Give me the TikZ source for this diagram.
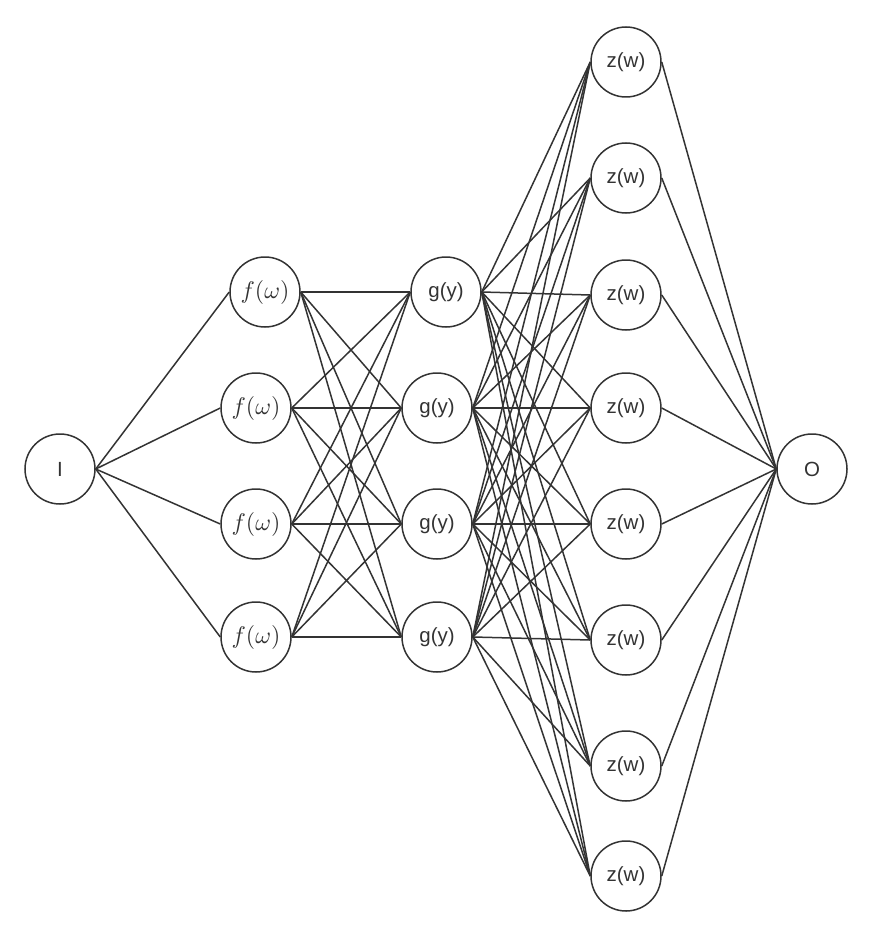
\documentclass[tikz,border=0pt]{standalone}
\usepackage{amsmath}
\usepackage{fontspec}
\setmainfont{Liberation Sans}
\usepackage{tikz}
\usetikzlibrary{calc,positioning}

\definecolor{inkgray}{HTML}{333333}
\newcommand{\fomega}{\scalebox{2.4}{\normalsize$f(\omega)$}}

\begin{document}
\begin{tikzpicture}[x=1pt,y=-1pt,
		neuron/.style = {draw=inkgray,circle,line width=1.5pt,minimum size=70pt,inner sep=0pt,text=inkgray,font=\fontsize{20.5}{23}\selectfont},
		link/.style = {draw=inkgray,line width=1.5pt}]
					\useasboundingbox (0,0) rectangle (873,936);

					% Input and output
					\node[neuron] (in) at (60,469) {I};
					\node[neuron] (out) at (812,469) {O};

					% First layer
					\node[neuron] (f1) at (265,292) {\fomega};
					\node[neuron] (f2) at (256,408) {\fomega};
					\node[neuron] (f3) at (256,524) {\fomega};
					\node[neuron] (f4) at (256,637) {\fomega};

					% Second layer
					\node[neuron] (g1) at (446,292) {g(y)};
					\node[neuron] (g2) at (437,408) {g(y)};
					\node[neuron] (g3) at (437,524) {g(y)};
					\node[neuron] (g4) at (437,637) {g(y)};

					% Third layer
					\node[neuron] (z1) at (626,62) {z(w)};
					\node[neuron] (z2) at (626,178) {z(w)};
					\node[neuron] (z3) at (626,295) {z(w)};
					\node[neuron] (z4) at (626,408) {z(w)};
					\node[neuron] (z5) at (626,524) {z(w)};
					\node[neuron] (z6) at (626,640) {z(w)};
					\node[neuron] (z7) at (626,766) {z(w)};
					\node[neuron] (z8) at (626,876) {z(w)};

					% Connections
					\foreach \i in {1,...,4}
						\draw[link] (in.east) -- (f\i.west);
					\foreach \i in {1,...,4}
						\foreach \j in {1,...,4}
							\draw[link] (f\i.east) -- (g\j.west);
					\foreach \i in {1,...,4}
						\foreach \j in {1,...,8}
							\draw[link] (g\i.east) -- (z\j.west);
					\foreach \j in {1,...,8}
						\draw[link] (z\j.east) -- (out.west);

				\end{tikzpicture}
\end{document}
